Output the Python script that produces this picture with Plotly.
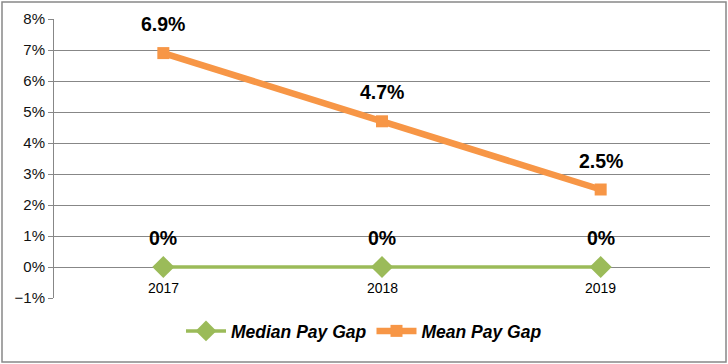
import plotly.graph_objects as go

years = ["2017", "2018", "2019"]
median_gap = [0.0, 0.0, 0.0]
mean_gap = [0.069, 0.047, 0.025]
median_labels = ["0%", "0%", "0%"]
mean_labels = ["6.9%", "4.7%", "2.5%"]

GREEN = "#9BBB59"
ORANGE = "#F79646"
GRID = "#878787"

fig = go.Figure()
fig.add_trace(go.Scatter(
    x=years, y=median_gap, name="Median Pay Gap", mode="lines+markers",
    line=dict(color=GREEN, width=3.5),
    marker=dict(symbol="diamond", size=17, color=GREEN),
))
fig.add_trace(go.Scatter(
    x=years, y=mean_gap, name="Mean Pay Gap", mode="lines+markers",
    line=dict(color=ORANGE, width=6.5),
    marker=dict(symbol="square", size=12, color=ORANGE),
))

lab_font = dict(family="Liberation Sans", size=19.5, color="black", weight="bold")
ann = []
for i, (y, t) in enumerate(zip(median_gap, median_labels)):
    ann.append(dict(x=i, y=y, text=t, showarrow=False, yshift=29, xref="x", yref="y", font=lab_font))
for i, (y, t) in enumerate(zip(mean_gap, mean_labels)):
    ann.append(dict(x=i, y=y, text=t, showarrow=False, yshift=29, xref="x", yref="y", font=lab_font))
for i, x in enumerate(years):
    ann.append(dict(x=i, y=0, text=x, showarrow=False, yshift=-21, xref="x", yref="y",
                    font=dict(family="Liberation Sans", size=14, color="black")))

fig.update_layout(
    width=728, height=364,
    margin=dict(l=54, r=18, t=19, b=66, autoexpand=False),
    paper_bgcolor="white", plot_bgcolor="white",
    showlegend=True,
    legend=dict(orientation="h", x=0.5, xanchor="center", xref="container",
                y=33 / 364, yanchor="middle", yref="container",
                bgcolor="rgba(0,0,0,0)",
                font=dict(family="Liberation Sans", size=17.5, color="black", weight="bold", style="italic"),
                itemwidth=40),
    annotations=ann,
    xaxis=dict(type="category", range=[-0.5, 2.5], showticklabels=False, showgrid=False,
               zeroline=False, showline=False, ticks="", automargin=False),
    yaxis=dict(range=[-0.01, 0.08], dtick=0.01, tickformat=".0%", showgrid=True,
               gridcolor=GRID, gridwidth=1, zeroline=False, showline=True, linecolor=GRID,
               linewidth=1, ticks="outside", ticklen=5, tickcolor=GRID, automargin=False,
               tickfont=dict(family="Liberation Sans", size=15, color="#111")),
    shapes=[dict(type="rect", xref="paper", yref="paper", x0=-52/656, x1=1+16/656,
                 y0=-64/279, y1=1+17/279, line=dict(color="#888", width=1.5), layer="below")],
)

fig.write_html("out.html", config={"displayModeBar": False},
               post_script="document.body.style.margin='0';document.body.style.overflow='hidden';")
